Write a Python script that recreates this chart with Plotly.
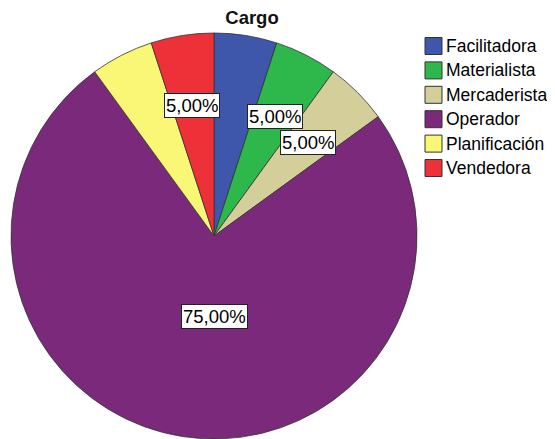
import plotly.graph_objects as go

categories = ["Facilitadora", "Materialista", "Mercaderista", "Operador", "Planificación", "Vendedora"]
values = [5, 5, 5, 75, 5, 5]
colors = ["#3E57AB", "#2EB74A", "#D4CF9A", "#7B2A7B", "#FAF776", "#EE3039"]

# percentage boxes shown in the reference (slice index, paper x, paper y)
label_slices = [5, 1, 2, 3]
label_pos = [(0.3364, 0.7749), (0.4881, 0.7471), (0.5484, 0.6868), (0.3766, 0.2831)]

W, H = 547, 431  # page body has an 8px margin in the viewer
total = sum(values)
FONT = "Liberation Sans, Arial, sans-serif"

fig = go.Figure()
fig.add_trace(go.Pie(
    labels=categories,
    values=values,
    marker=dict(colors=colors, line=dict(color="#333333", width=0.8)),
    sort=False,
    direction="clockwise",
    rotation=0,
    textinfo="none",
    hoverinfo="label+percent",
    showlegend=False,
    domain=dict(x=[3 / W, 409 / W], y=[0, 1 - 25 / H]),
))

for idx, (px, py) in zip(label_slices, label_pos):
    pct = values[idx] / total * 100
    txt = f"{pct:.2f}%".replace(".", ",")
    fig.add_annotation(
        x=px, y=py, xref="paper", yref="paper",
        xanchor="center", yanchor="middle",
        text=txt, showarrow=False,
        font=dict(family=FONT, size=18.5, color="black"),
        bgcolor="white", bordercolor="#222222", borderwidth=1, borderpad=1,
    )

# custom legend (large square swatches like the reference)
row0, step, sw = 38, 24.4, 17
for i, (cat, col) in enumerate(zip(categories, colors)):
    yc = row0 + step * i
    fig.add_shape(
        type="rect", xref="paper", yref="paper",
        x0=417 / W, x1=434 / W,
        y0=1 - (yc + sw / 2) / H, y1=1 - (yc - sw / 2) / H,
        fillcolor=col, line=dict(color="#333333", width=1),
    )
    fig.add_annotation(
        x=436 / W, y=1 - yc / H, xref="paper", yref="paper",
        xanchor="left", yanchor="middle", text=cat, showarrow=False,
        font=dict(family=FONT, size=17.5, color="black"),
    )

fig.update_layout(
    width=W, height=H,
    margin=dict(l=0, r=0, t=0, b=0),
    paper_bgcolor="white",
    plot_bgcolor="white",
    title=dict(text="<b>Cargo</b>", x=244 / W, xanchor="center", y=1 - 10 / H, yanchor="middle",
               font=dict(family=FONT, size=18.5, color="#111111")),
    showlegend=False,
)

fig.write_html("out.html")
